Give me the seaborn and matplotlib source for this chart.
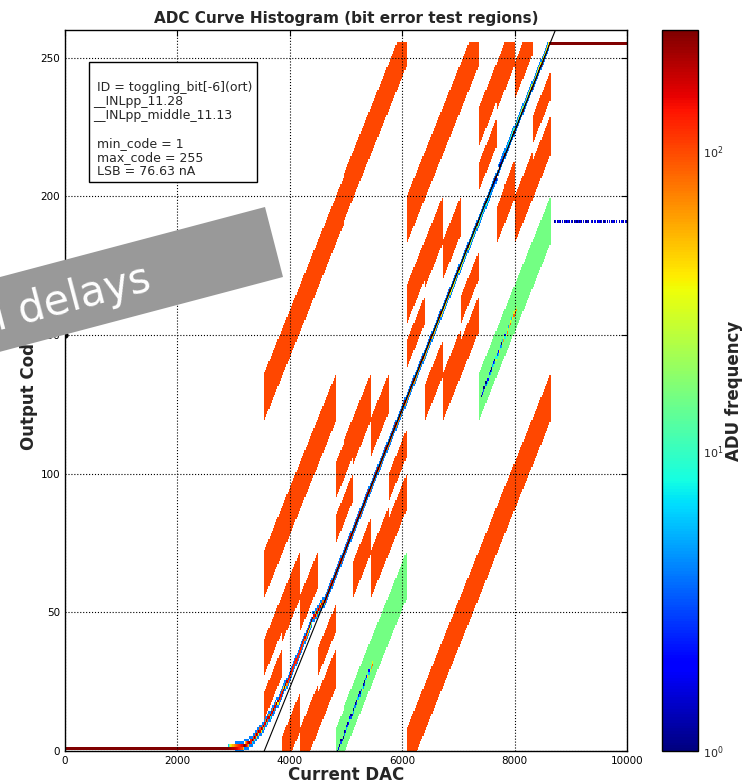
import numpy as np
import pandas as pd
import matplotlib
matplotlib.use("Agg")
import matplotlib.pyplot as plt
from matplotlib.colors import LogNorm
from matplotlib.patches import Polygon
import seaborn as sns

# ---------------- data ----------------
# ideal transfer line (black): DAC value of code 0 and DAC steps per code
ideal_dac0 = 3545.0
ideal_dac_per_code = 19.93
ideal_codes = [0, 260]

# measured transfer curve (centre of the histogram ridge)
curve_dac = [0, 2900, 3150, 3290, 3520, 3770, 3970, 4180, 4410, 4630, 8627, 8660, 10000]
curve_code = [1, 1, 1.6, 3, 8.6, 17, 25.6, 36, 48, 54.5, 255, 255, 255]
ridge_count = 250
fringe_count = 4

# bit-error test regions
test_bits = [4, 5, 6, 7]
green_bit = 6
region_halfwidth = 8.5
exclusion_radius = 11.0   # codes kept free around the line and around other bits' regions
orange_level = 100
green_level = 15

# observed bit-6 errors (true codes 64..95 and 192..223 read as code-64)
err_dac_offset = 35
err_lo_first_code = 64
err_lo_counts = [1, 2, 1, 3, 2, 1, 4, 2, 6, 3, 2, 8, 3, 2, 5, 12,
                 4, 3, 20, 6, 4, 9, 30, 5, 3, 14, 8, 40, 6, 25, 60, 90]
err_hi_first_code = 192
err_hi_counts = [1, 2, 3, 1, 4, 6, 2, 10, 5, 3, 15, 8, 4, 25, 10, 6,
                 40, 12, 5, 20, 60, 8, 30, 70, 15, 50, 90, 20, 40, 80, 120, 60]
# stray hits at code 191 after saturation
stray_code = 191
stray_start_dac = 8700
stray_counts = [1, 2, 0, 1, 2, 1, 0, 2, 0, 1, 2, 1, 2, 1, 0, 2, 1, 0, 1, 2, 1, 2, 1, 2, 1, 0,
                2, 0, 1, 2, 1, 0, 0, 2, 1, 0, 2, 0, 1, 2, 2, 1, 2, 0, 1, 2, 0, 1, 0, 2, 0, 1,
                2, 1, 0, 2, 0, 0, 1, 0, 2, 1, 0, 2, 1]

info_text = ("\n ID = toggling_bit[-6](ort)\n__INLpp_11.28\n__INLpp_middle_11.13\n\n"
             " min_code = 1\n max_code = 255\n LSB = 76.63 nA")
xticks = [0, 2000, 4000, 6000, 8000, 10000]
yticks = [0, 50, 100, 150, 200, 250]

# ---------------- histogram grid ----------------
bin_w = 20
x_edges = np.arange(0, 10000 + bin_w, bin_w)
xc = (x_edges[:-1] + x_edges[1:]) / 2
codes = np.arange(256)
y_edges = np.arange(-0.5, 256.5, 1.0)
val = np.zeros((len(xc), len(codes)))

f_true = (xc - ideal_dac0) / ideal_dac_per_code
tc = np.round(f_true).astype(int)
for i in range(len(xc)):
    if tc[i] < 0 or tc[i] > 255:
        continue
    centres = {}
    for b in test_bits:
        shift = -(1 << b) if (tc[i] >> b) & 1 else (1 << b)
        centres[b] = f_true[i] + shift
    free = np.abs(codes - f_true[i]) >= exclusion_radius
    # orange regions first, green afterwards
    order = [b for b in test_bits if not (b == green_bit and centres[b] < f_true[i])]
    order += [b for b in test_bits if b not in order]
    for b in order:
        sel = (np.abs(codes - centres[b]) <= region_halfwidth) & free
        for b2 in test_bits:
            if b2 != b:
                sel &= np.abs(codes - centres[b2]) >= exclusion_radius
        green = (b == green_bit and centres[b] < f_true[i])
        val[i, sel] = green_level if green else orange_level

# measured ridge
cc = np.interp(xc, curve_dac, curve_code)
for i in range(len(xc)):
    lo = int(np.floor(cc[i]))
    fr = cc[i] - lo
    if 1.3 < cc[i] < 255:
        for j in (lo - 1, lo + 2):
            if 0 <= j <= 255:
                val[i, j] = fringe_count
    n_lo = ridge_count * (1 - fr)
    n_hi = ridge_count * fr
    if n_lo >= 1:
        val[i, lo] = n_lo
    if n_hi >= 1 and lo + 1 <= 255:
        val[i, lo + 1] = n_hi

# error traces
f_err = (xc - ideal_dac0 - err_dac_offset) / ideal_dac_per_code
te = np.round(f_err).astype(int)
for first, counts in ((err_lo_first_code, err_lo_counts), (err_hi_first_code, err_hi_counts)):
    for i in range(len(xc)):
        k = te[i] - first
        if 0 <= k < len(counts):
            y = te[i] - 64
            val[i, y] = counts[k]
            if counts[k] >= 3:
                val[i, y + 1] = max(1, counts[k] // 3)
i0 = int(stray_start_dac // bin_w)
for k, cnt in enumerate(stray_counts):
    if cnt > 0 and i0 + k < len(xc):
        val[i0 + k, stray_code] = cnt

ii, jj = np.nonzero(val)
df = pd.DataFrame({"dac": xc[ii], "code": codes[jj].astype(float), "w": val[ii, jj]})

# ---------------- figure ----------------
sns.set_style("white")
plt.rcParams.update({
    "font.family": ["DejaVu Sans"],
    "xtick.direction": "in", "ytick.direction": "in",
    "xtick.top": True, "ytick.right": True,
    "xtick.labelsize": 7.5, "ytick.labelsize": 7.5,
    "xtick.major.size": 4, "ytick.major.size": 4,
    "axes.edgecolor": "black", "axes.linewidth": 1.0,
})
W, H = 742, 783
fig = plt.figure(figsize=(W / 100, H / 100), dpi=100)
ax = fig.add_axes([65 / W, 32 / H, 562 / W, 721 / H])
cax = fig.add_axes([662 / W, 32 / H, 36 / W, 721 / H])

jet = matplotlib.colormaps["jet"]
sns.histplot(data=df, x="dac", y="code", weights="w", bins=[x_edges, y_edges],
             cmap=jet, ax=ax, cbar=False)
mesh = ax.collections[-1]
mesh.set_norm(LogNorm(vmin=1, vmax=253))

ideal_dac = [ideal_dac0 + c * ideal_dac_per_code for c in ideal_codes]
sns.lineplot(x=ideal_dac, y=ideal_codes, color="black", lw=0.8, ax=ax, zorder=3)
ax.scatter([0], [150], s=12, color="black", zorder=4, clip_on=True)

ax.set_xlim(0, 10000)
ax.set_ylim(0, 260)
ax.set_xticks(xticks)
ax.set_yticks(yticks)
ax.grid(True, linestyle=":", color="black", linewidth=0.8)
ax.set_axisbelow(False)
for s in ax.spines.values():
    s.set_color("black")
ax.tick_params(colors="black", length=4)
ax.set_xlabel("Current DAC", fontsize=12, fontweight="bold", labelpad=0)
ax.set_ylabel("Output Code", fontsize=12, fontweight="bold", labelpad=2)
ax.set_title("ADC Curve Histogram (bit error test regions)", fontsize=11,
             fontweight="bold", pad=5)

ax.text(0.05, 0.949, info_text, transform=ax.transAxes, fontsize=9, va="top",
        ha="left", linespacing=1.1,
        bbox=dict(boxstyle="square,pad=0.35", facecolor="white", edgecolor="black", lw=1))

cbar = fig.colorbar(mesh, cax=cax)
cbar.ax.minorticks_off()
cbar.ax.tick_params(labelsize=8, direction="in", length=4)
cbar.outline.set_edgecolor("black")
cbar.set_label("ADU frequency", fontsize=12, fontweight="bold", labelpad=1)

# grey banner (partly outside the figure)
th = np.deg2rad(14.8)
u = np.array([-np.cos(th), -np.sin(th)])
tr = np.array([265.0, H - 207.0])
br = np.array([283.0, H - 277.0])
L = 700
pts = np.array([tr, br, br + L * u, tr + L * u]) / np.array([W, H])
fig.patches.append(Polygon(pts, closed=True, transform=fig.transFigure,
                           facecolor="#999999", edgecolor="none", zorder=10))
fig.text(153 / W, (H - 290) / H, "Signal delays", color="white", fontsize=30,
         rotation=14.8, rotation_mode="anchor", ha="right", va="baseline", zorder=11)

fig.savefig("out.png", dpi=100)
